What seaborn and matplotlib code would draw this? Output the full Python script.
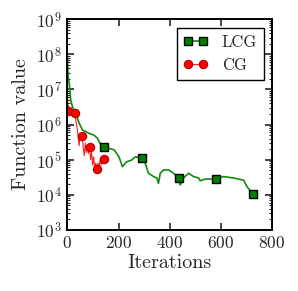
import matplotlib
matplotlib.use("Agg")
import matplotlib.pyplot as plt
import seaborn as sns
from matplotlib.ticker import FixedLocator, NullFormatter

# LCG trace (iterations, function value)
lcg_iter = [0, 3, 10, 13, 20, 33, 46, 59, 72, 85, 104, 117, 131, 145, 163, 183,
            202, 215, 232, 252, 265, 290, 304, 317, 337, 350, 356, 363, 376, 395,
            415, 435, 441, 454, 474, 493, 513, 519, 539, 580, 611, 650, 689, 702, 725]
lcg_val = [8e7, 2.5e7, 1e7, 5e6, 3.2e6, 2.1e6, 1.1e6, 7e5, 6.3e5, 5.6e5, 5e5, 4.1e5,
           2.6e5, 2.3e5, 2.1e5, 1.9e5, 1.2e5, 6.3e4, 8.7e4, 9.8e4, 1.2e5, 1.1e5, 8e4,
           4.1e4, 3.3e4, 3e4, 2.1e4, 4.1e4, 5.1e4, 5.1e4, 4.1e4, 3e4, 1.9e4, 3e4,
           4.1e4, 3.3e4, 3e4, 2.5e4, 2.8e4, 2.8e4, 3.3e4, 3e4, 2.6e4, 1.7e4, 1.05e4]
lcg_marks = [145, 290, 435, 580, 725]

# CG trace
cg_iter = [0, 2, 5, 9, 13, 17, 21, 25, 30, 34, 38, 42, 46, 50, 54, 58, 62, 66, 70,
           74, 78, 82, 87, 91, 95, 99, 103, 107, 111, 116, 120, 124, 128, 132, 136,
           140, 145]
cg_val = [1e7, 2.4e6, 3.5e6, 2e6, 3e6, 1.8e6, 2.6e6, 2e6, 2.1e6, 1.2e6, 8e5, 4.5e5,
          2.5e5, 5e5, 3.5e5, 4.8e5, 2.2e5, 1.3e5, 3e5, 1.6e5, 2.5e5, 1.5e5, 2.3e5,
          1e5, 1.6e5, 7e4, 1.2e5, 5e4, 8e4, 5.6e4, 8e4, 6e4, 1e5, 7e4, 1.1e5, 8e4, 1.02e5]
cg_marks = [2, 30, 58, 87, 116, 145]

x_ticks = [0, 200, 400, 600, 800]
y_ticks = [1e3, 1e4, 1e5, 1e6, 1e7, 1e8, 1e9]

sns.set_style("ticks")
plt.rcParams['font.family'] = ['cmr10', 'DejaVu Serif']
plt.rcParams['mathtext.fontset'] = 'cm'
plt.rcParams['axes.formatter.use_mathtext'] = True

fig = plt.figure(figsize=(2.98, 2.91), dpi=100)
ax = fig.add_axes([0.226, 0.21, 0.687, 0.724])

sns.lineplot(x=lcg_iter, y=lcg_val, ax=ax, color='#108a10', lw=1.2, sort=False,
             marker='s', markersize=6, markerfacecolor='green', markeredgecolor='black',
             markeredgewidth=1.0,
             markevery=[i for i, t in enumerate(lcg_iter) if t in lcg_marks], label='LCG')
sns.lineplot(x=cg_iter, y=cg_val, ax=ax, color='#ff2020', lw=0.8, sort=False,
             marker='o', markersize=6, markerfacecolor='red', markeredgecolor='#b00000',
             markeredgewidth=0.8,
             markevery=[i for i, t in enumerate(cg_iter) if t in cg_marks], label='CG')

ax.set_yscale('log')
ax.set_ylim(1e3, 1e9)
ax.set_xlim(0, 800)
ax.set_xticks(x_ticks)
ax.set_yticks(y_ticks)
minor = [m * 10 ** e for e in range(3, 9) for m in range(2, 10)]
ax.yaxis.set_minor_locator(FixedLocator(minor))
ax.yaxis.set_minor_formatter(NullFormatter())

ax.tick_params(which='both', direction='in', top=True, right=True, labelsize=12.5, pad=4)
ax.tick_params(which='major', length=5, width=1.2)
ax.tick_params(which='minor', length=2.5, width=0.8)
for s in ax.spines.values():
    s.set_linewidth(1.4)
    s.set_color('black')

ax.set_xlabel("Iterations", fontsize=14.5, labelpad=2)
ax.set_ylabel("Function value", fontsize=14.5, labelpad=4)

leg = ax.legend(loc='upper right', fontsize=12, numpoints=2, handlelength=1.5,
                fancybox=False, framealpha=1, edgecolor='black', borderaxespad=0.5)
leg.get_frame().set_linewidth(1.0)

fig.savefig("out.png", dpi=100)
